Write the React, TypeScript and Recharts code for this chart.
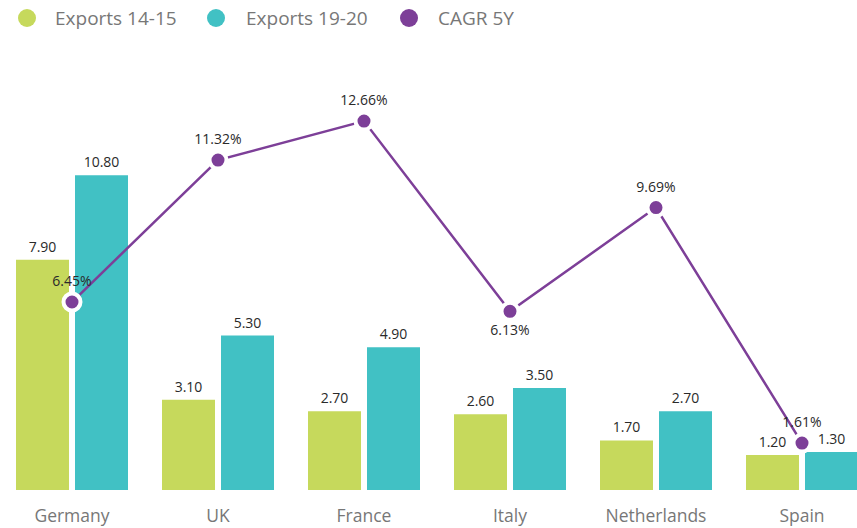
import React from 'react';
import { ComposedChart, Bar, Line, XAxis, YAxis, LabelList } from 'recharts';

const categories = ['Germany', 'UK', 'France', 'Italy', 'Netherlands', 'Spain'];
const exports1415 = [7.9, 3.1, 2.7, 2.6, 1.7, 1.2];
const exports1920 = [10.8, 5.3, 4.9, 3.5, 2.7, 1.3];
const cagr5y = [6.45, 11.32, 12.66, 6.13, 9.69, 1.61];

const GREEN = '#c6d95c';
const TEAL = '#41c1c4';
const PURPLE = '#7d3f98';
const FONT = '"Open Sans", sans-serif';

const data = categories.map((name, i) => ({
  name,
  e1415: exports1415[i],
  e1920: exports1920[i],
  cagr: cagr5y[i],
}));

const legendItems = [
  { label: 'Exports 14-15', color: GREEN, left: 18, textLeft: 55 },
  { label: 'Exports 19-20', color: TEAL, left: 207, textLeft: 246 },
  { label: 'CAGR 5Y', color: PURPLE, left: 400, textLeft: 438 },
];

const CagrLabel = (props: any) => {
  const { x, y, value, index } = props;
  const below = categories[index] === 'Italy';
  return (
    <text
      x={x}
      y={below ? y + 24 : y - 16}
      textAnchor="middle"
      fontSize={14}
      fontFamily={FONT}
      fill="#2a2a2a"
    >
      {`${Number(value).toFixed(2)}%`}
    </text>
  );
};

const fmt = (v: any) => Number(v).toFixed(2);

export default function App() {
  return (
    <div style={{ position: 'fixed', left: 0, top: 0, width: 857, height: 528, overflow: 'hidden', background: '#fff' }}>
      <div style={{ position: 'absolute', left: 0, top: 0, height: 36, width: 857 }}>
        {legendItems.map((it) => (
          <React.Fragment key={it.label}>
            <div style={{ position: 'absolute', left: it.left, top: 9, width: 18, height: 18, borderRadius: 9, background: it.color }} />
            <span style={{ position: 'absolute', left: it.textLeft, top: 5, fontFamily: FONT, fontSize: 19, color: '#777', lineHeight: '26px', whiteSpace: 'nowrap' }}>{it.label}</span>
          </React.Fragment>
        ))}
      </div>
      <div style={{ position: 'absolute', left: -1, top: 0 }}>
        <ComposedChart
          width={876}
          height={528}
          data={data}
          margin={{ top: 82, right: 0, bottom: 8, left: 0 }}
          barCategoryGap={17}
          barGap={6}
        >
          <XAxis
            dataKey="name"
            axisLine={false}
            tickLine={false}
            height={30}
            tickMargin={14}
            tick={{ fontSize: 17.5, fontFamily: FONT, fill: '#777' }}
            interval={0}
          />
          <YAxis hide domain={[0, 14]} />
          <Bar dataKey="e1415" fill={GREEN} isAnimationActive={false}>
            <LabelList dataKey="e1415" position="top" offset={8} formatter={fmt} style={{ fontSize: 14, fontFamily: FONT, fill: '#2a2a2a' }} />
          </Bar>
          <Bar dataKey="e1920" fill={TEAL} isAnimationActive={false}>
            <LabelList dataKey="e1920" position="top" offset={8} formatter={fmt} style={{ fontSize: 14, fontFamily: FONT, fill: '#2a2a2a' }} />
          </Bar>
          <Line
            dataKey="cagr"
            stroke={PURPLE}
            strokeWidth={2.5}
            dot={{ r: 8.5, fill: PURPLE, stroke: '#fff', strokeWidth: 4 }}
            activeDot={false}
            isAnimationActive={false}
          >
            <LabelList dataKey="cagr" content={<CagrLabel />} />
          </Line>
        </ComposedChart>
      </div>
    </div>
  );
}
